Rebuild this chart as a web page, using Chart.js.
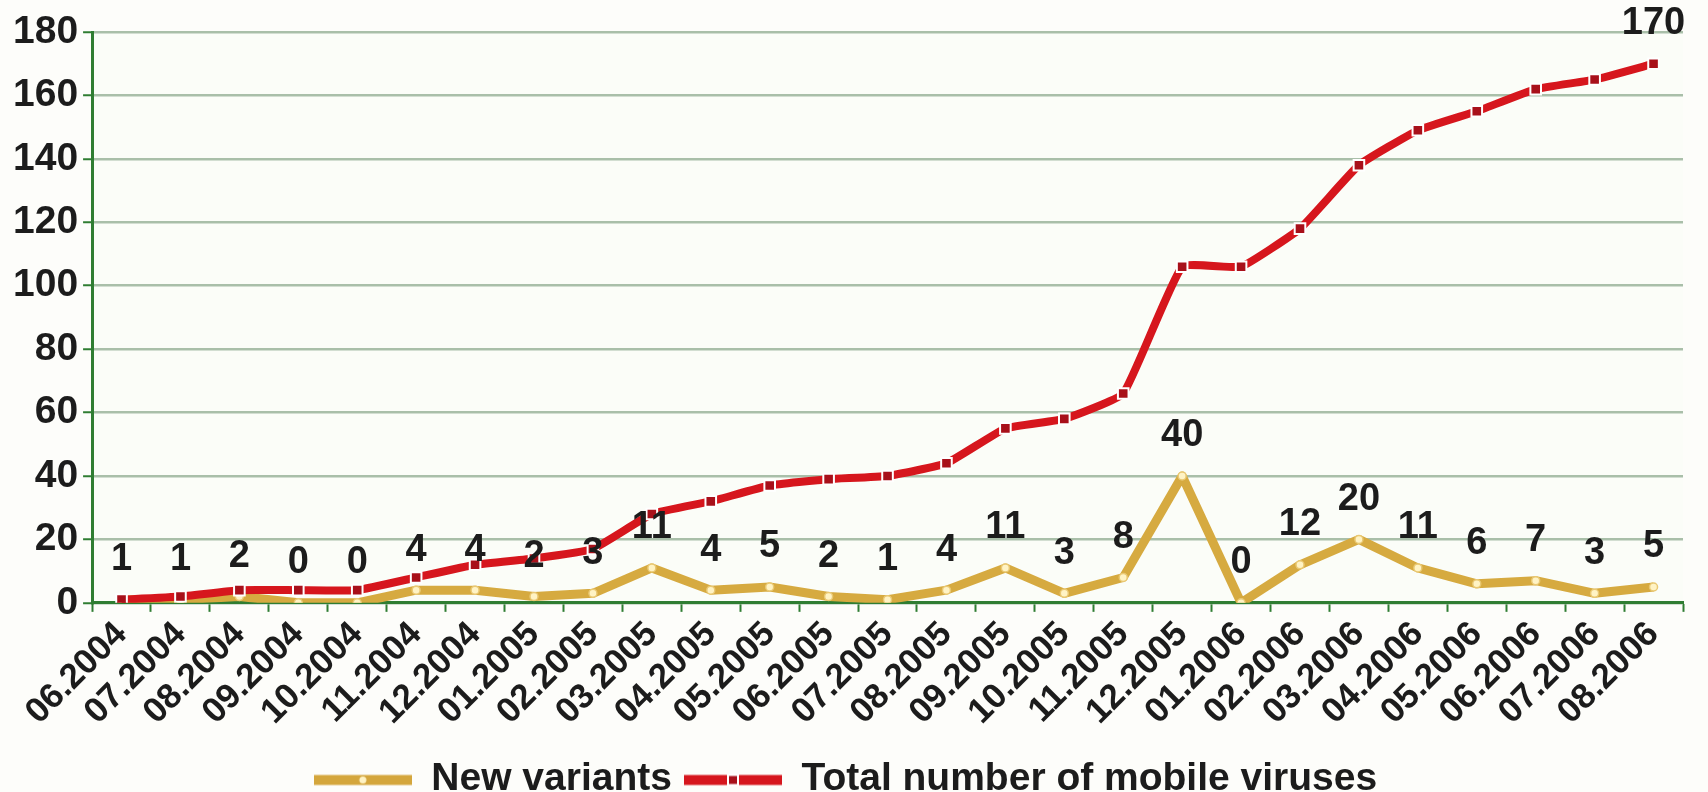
<!DOCTYPE html>
<html>
<head>
<meta charset="utf-8">
<title>Mobile viruses</title>
<script src="https://cdn.jsdelivr.net/npm/chart.js@4.4.1/dist/chart.umd.min.js"></script>
<style>
  html, body { margin: 0; padding: 0; background: #fdfdfa; }
  #boite { width: 1708px; height: 792px; }
</style>
</head>
<body>
<div id="boite"><canvas id="myChart"></canvas></div>
<script>
// donnees
const mois = [
  "06.2004", "07.2004", "08.2004", "09.2004", "10.2004", "11.2004", "12.2004",
  "01.2005", "02.2005", "03.2005", "04.2005", "05.2005", "06.2005", "07.2005",
  "08.2005", "09.2005", "10.2005", "11.2005", "12.2005", "01.2006", "02.2006",
  "03.2006", "04.2006", "05.2006", "06.2006", "07.2006", "08.2006"
];
const nouveaux = [1, 1, 2, 0, 0, 4, 4, 2, 3, 11, 4, 5, 2, 1, 4, 11, 3, 8, 40, 0, 12, 20, 11, 6, 7, 3, 5];
const total = [1, 2, 4, 4, 4, 8, 12, 14, 17, 28, 32, 37, 39, 40, 44, 55, 58, 66, 106, 106, 118, 138, 149, 155, 162, 165, 170];
const graduationsY = [0, 20, 40, 60, 80, 100, 120, 140, 160, 180];

const police = "'Liberation Sans', Arial, sans-serif";

// petit dessin pour la legende : trait epais + marqueur au milieu
function motifLegende(couleur, marqueur) {
  const c = document.createElement("canvas");
  c.width = 98;
  c.height = 14;
  const g = c.getContext("2d");
  g.fillStyle = couleur;
  g.fillRect(0, 2.5, 98, 10);
  if (marqueur == "rond") {
    g.fillStyle = "#fff3c4";
    g.beginPath();
    g.arc(49, 7.5, 3.5, 0, Math.PI * 2);
    g.fill();
  } else {
    g.fillStyle = "#ffffff";
    g.fillRect(43, 1.5, 12, 12);
    g.fillStyle = "#a8101a";
    g.fillRect(45, 3.5, 8, 8);
  }
  return c;
}
const motifs = [motifLegende("#d4a63c", "rond"), motifLegende("#d6161d", "carre")];

// fond de la page
const fond = {
  id: "fond",
  beforeDraw(chart) {
    const ctx = chart.ctx;
    ctx.save();
    ctx.fillStyle = "#fdfdfa";
    ctx.fillRect(0, 0, chart.width, chart.height);
    const a = chart.chartArea;
    ctx.fillStyle = "#fbfdf8";
    ctx.fillRect(a.left, a.top, a.right - a.left, a.bottom - a.top);
    ctx.restore();
  },
};

// etiquettes des valeurs au dessus des points
const etiquettes = {
  id: "etiquettes",
  afterDatasetsDraw(chart) {
    const ctx = chart.ctx;
    ctx.save();
    ctx.font = "bold 38px " + police;
    ctx.fillStyle = "#1c1c1c";
    ctx.textAlign = "center";
    ctx.textBaseline = "middle";
    let pointsNouveaux = chart.getDatasetMeta(1).data;
    pointsNouveaux.forEach((pt, i) => {
      ctx.fillText(nouveaux[i], pt.x, pt.y - 40);
    });
    let pointsTotal = chart.getDatasetMeta(0).data;
    let dernier = pointsTotal[pointsTotal.length - 1];
    ctx.fillText(total[total.length - 1], dernier.x, dernier.y - 40);
    ctx.restore();
  },
};

const data = {
  labels: mois,
  datasets: [
    {
      label: "Total number of mobile viruses",
      data: total,
      borderColor: "#d6161d",
      borderWidth: 8,
      borderJoinStyle: "round",
      tension: 0.12,
      pointStyle: "rect",
      pointRadius: 7.5,
      pointBackgroundColor: "#a8101a",
      pointBorderColor: "#ffffff",
      pointBorderWidth: 2,
      fill: false,
    },
    {
      label: "New variants",
      data: nouveaux,
      borderColor: "#d6aa40",
      borderWidth: 9,
      borderJoinStyle: "round",
      tension: 0,
      pointStyle: "circle",
      pointRadius: 4,
      pointBackgroundColor: "#fff3c4",
      pointBorderColor: "#e9c872",
      pointBorderWidth: 1.5,
      fill: false,
    },
  ],
};

const config = {
  type: "line",
  data: data,
  plugins: [fond, etiquettes],
  options: {
    responsive: true,
    maintainAspectRatio: false,
    animation: false,
    layout: {
      padding: { left: 8, right: 25, top: 32, bottom: -17 },
    },
    plugins: {
      tooltip: { enabled: false },
      legend: {
        position: "bottom",
        reverse: true,
        labels: {
          usePointStyle: true,
          pointStyleWidth: 98,
          padding: 12,
          color: "#1c1c1c",
          font: { family: police, size: 39, weight: "bold" },
          generateLabels(chart) {
            const items = Chart.defaults.plugins.legend.labels.generateLabels(chart);
            items.forEach((it) => {
              it.pointStyle = it.datasetIndex == 1 ? motifs[0] : motifs[1];
            });
            return items;
          },
        },
      },
    },
    scales: {
      x: {
        offset: true,
        afterFit(scale) {
          scale.height += 13;
        },
        grid: {
          offset: true,
          drawOnChartArea: false,
          drawTicks: true,
          tickLength: 9,
          tickWidth: 2,
          tickColor: "#2f7d32",
        },
        border: { color: "#2f7d32", width: 3 },
        ticks: {
          autoSkip: false,
          maxRotation: 45,
          minRotation: 45,
          padding: 2,
          color: "#1c1c1c",
          font: { family: police, size: 35, weight: "bold" },
        },
      },
      y: {
        min: 0,
        max: 180,
        afterBuildTicks(scale) {
          scale.ticks = graduationsY.map((v) => ({ value: v }));
        },
        grid: {
          color: "#a9bfa9",
          lineWidth: 2.5,
          tickLength: 9,
          tickColor: "#2f7d32",
          tickWidth: 2,
        },
        border: { color: "#2f7d32", width: 3 },
        ticks: {
          padding: 5,
          color: "#1c1c1c",
          font: { family: police, size: 39, weight: "bold" },
        },
      },
    },
  },
};

let context = document.getElementById("myChart").getContext("2d");
let chart = new Chart(context, config);
</script>
</body>
</html>
